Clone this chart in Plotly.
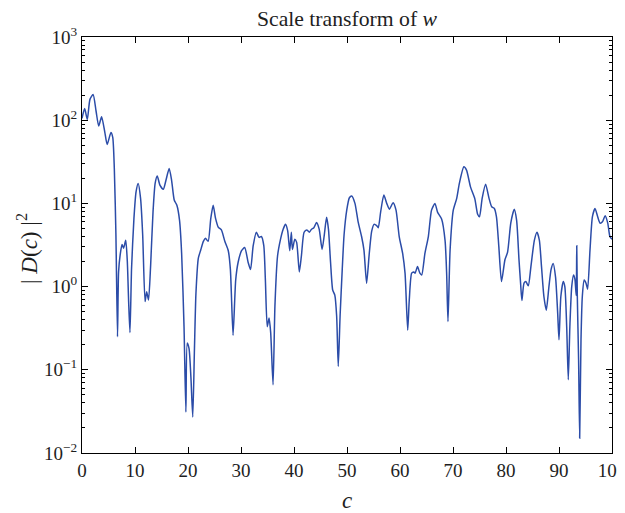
import plotly.graph_objects as go

# scale variable c
c_vals = [
    0.0, 0.5, 1.0, 1.5, 2.1, 2.65, 3.15, 3.7, 4.3, 4.75, 5.45, 5.8, 6.1, 6.4, 6.7,
    6.9, 7.2, 7.55, 7.85, 8.25, 8.55, 8.8, 9.05, 9.35, 9.8, 10.2, 10.6, 11.05, 11.45,
    11.9, 12.2, 12.55, 12.95, 13.4, 13.8, 14.2, 14.7, 15.35, 15.85, 16.45, 16.9, 17.4,
    17.9, 18.4, 18.8, 19.25, 19.6, 19.85, 20.2, 20.55, 20.9, 21.2, 21.5, 21.95, 22.4,
    22.9, 23.3, 23.8, 24.3, 24.75, 25.2, 25.7, 26.3, 26.95, 27.6, 28.0, 28.5, 29.0,
    29.45, 30.1, 30.7, 31.35, 31.8, 32.3, 32.9, 33.4, 33.85, 34.3, 34.6, 34.95, 35.3,
    35.6, 36.05, 36.4, 36.9, 37.45, 37.95, 38.4, 38.8, 39.2, 39.5, 39.7, 40.15, 40.5,
    41.0, 41.4, 41.9, 42.4, 42.9, 43.3, 43.75, 44.25, 44.75, 45.3, 45.7, 46.15, 46.5,
    46.9, 47.3, 47.7, 48.05, 48.35, 48.7, 49.1, 49.45, 49.95, 50.45, 50.9, 51.5, 52.1,
    52.75, 53.2, 53.7, 54.2, 54.65, 55.1, 55.6, 55.9, 56.35, 56.95, 57.5, 58.0, 58.7,
    59.25, 59.85, 60.5, 60.95, 61.45, 61.75, 62.2, 62.6, 62.85, 63.3, 63.75, 64.1,
    64.7, 65.35, 65.95, 66.6, 67.1, 67.85, 68.5, 68.8, 69.05, 69.45, 70.05, 70.7,
    71.2, 72.05, 72.55, 73.3, 74.1, 74.65, 75.0, 75.5, 76.15, 76.8, 77.3, 77.8, 78.2,
    78.65, 79.15, 79.8, 80.3, 80.9, 81.55, 82.0, 82.45, 82.75, 83.0, 83.4, 83.75,
    84.2, 84.7, 85.35, 85.85, 86.3, 86.7, 87.15, 87.6, 88.1, 88.5, 88.9, 89.35,
    89.75, 90.0, 90.35, 90.8, 91.1, 91.45, 91.75, 92.05, 92.4, 92.75, 93.0, 93.25,
    93.35, 93.45, 93.7, 93.9, 94.15, 94.4, 94.75, 95.1, 95.4, 95.85, 96.3, 96.8,
    97.3, 97.75, 98.2, 98.7, 99.2, 99.6, 100.0,
]

# |D(c)|^2
d_vals = [
    105, 138, 102, 178, 204, 129, 85, 110, 72, 51, 71, 62, 26, 4.2, 0.25,
    1.5, 2.4, 3.2, 2.9, 3.6, 2.0, 0.66, 0.28, 1.66, 6.6, 13.8, 17.4, 11.5, 4.2,
    0.66, 0.87, 0.69, 1.8, 7.9, 17.4, 21.4, 16.6, 14.8, 19.1, 26.3, 19.1, 11.0,
    9.5, 6.3, 2.5, 0.33, 0.031, 0.21, 0.18, 0.081, 0.027, 0.16, 0.83, 2.2, 2.75,
    3.5, 3.8, 3.5, 6.6, 9.5, 6.6, 5.2, 4.8, 3.5, 2.7, 1.6, 0.26, 1.2,
    1.95, 2.7, 2.95, 1.95, 1.6, 3.1, 4.5, 3.9, 4.0, 3.1, 1.2, 0.33, 0.42,
    0.28, 0.066, 0.58, 2.35, 3.7, 4.9, 5.6, 4.7, 2.7, 4.5, 2.8, 3.7, 3.4,
    1.5, 2.35, 4.5, 4.8, 4.5, 4.9, 5.1, 5.9, 4.9, 2.8, 4.1, 6.8, 4.9,
    1.95, 0.91, 0.79, 0.44, 0.11, 0.45, 1.6, 4.2, 8.3, 11.7, 12.3, 10.0, 6.0,
    4.0, 2.75, 1.1, 2.5, 4.6, 5.6, 5.4, 5.1, 7.9, 12.6, 10.0, 8.5, 10.2,
    8.3, 4.0, 2.5, 1.45, 0.30, 0.69, 1.45, 1.5, 1.45, 1.74, 1.45, 1.38,
    2.5, 4.0, 8.3, 10.0, 7.8, 6.5, 3.6, 1.45, 0.38, 2.75, 8.3, 11.5,
    17.4, 27.5, 25.1, 15.8, 11.5, 7.4, 6.9, 11.5, 17.0, 11.5, 9.1, 8.7, 6.9,
    3.0, 1.15, 2.1, 2.6, 5.8, 8.5, 6.3, 2.1, 1.1, 0.68, 1.1, 1.15,
    1.02, 1.74, 3.6, 4.5, 3.6, 1.74, 0.76, 0.52, 1.0, 1.6, 1.9, 1.3,
    0.48, 0.23, 0.76, 1.15, 1.0, 0.33, 0.076, 0.33, 1.0, 1.38, 1.23, 0.78,
    3.1, 0.79, 0.13, 0.015, 0.23, 0.76, 1.2, 1.1, 0.93, 2.75, 6.9, 8.7,
    6.9, 5.8, 6.0, 7.1, 5.8, 4.0, 3.7,
]

y_tickvals = [1e-2, 1e-1, 1e0, 1e1, 1e2, 1e3]
y_ticktext = ["10<sup>\u22122</sup>", "10<sup>\u22121</sup>", "10<sup>0</sup>",
              "10<sup>1</sup>", "10<sup>2</sup>", "10<sup>3</sup>"]
y_minor_vals = [k * d for d in [1e-2, 1e-1, 1e0, 1e1, 1e2] for k in range(2, 10)]
x_tickvals = [0, 10, 20, 30, 40, 50, 60, 70, 80, 90, 100]

title_text = "Scale transform of <i>w</i>"
x_title = "<i>c</i>"
y_title = "| <i>D</i>(<i>c</i>) |<sup>2</sup>"

FONT = "Liberation Serif"
TXT = "#1e1e1e"

# the page body adds an 8px offset; figure sized so that it fills the window
W, H = 617, 505
L, R, T, B = 74, 13, 29, 60
PW, PH = W - L - R, H - T - B

fig = go.Figure()
fig.add_trace(go.Scatter(
    x=c_vals, y=d_vals, mode="lines",
    line=dict(color="#2b4ca8", width=1.5, shape="spline", smoothing=0.6),
    showlegend=False,
))

fig.update_layout(
    width=W, height=H,
    margin=dict(l=L, r=R, t=T, b=B, autoexpand=False),
    paper_bgcolor="white", plot_bgcolor="white",
    font=dict(family=FONT, size=19, color=TXT),
    title=dict(text=title_text, x=0.5, xref="paper", xanchor="center",
               y=1 - 10 / H, yref="container", yanchor="middle",
               font=dict(family=FONT, size=21.7, color=TXT)),
)

fig.add_annotation(text=y_title, textangle=-90, xref="paper", yref="paper",
                   x=-(L - 19) / PW, y=0.5 - 4 / PH, xanchor="center", yanchor="middle",
                   showarrow=False, font=dict(family=FONT, size=23, color=TXT))
fig.add_annotation(text=x_title, xref="paper", yref="paper",
                   x=0.5, y=-(492 - (H - B)) / PH, xanchor="center", yanchor="middle",
                   showarrow=False, font=dict(family=FONT, size=23, color=TXT))

fig.update_xaxes(
    range=[0, 100], tickvals=x_tickvals, automargin=False,
    ticklabeloverflow="allow",
    showline=True, linecolor="black", linewidth=1.3, mirror="ticks",
    ticks="inside", ticklen=6, tickwidth=1.1, tickcolor="black",
    showgrid=False, zeroline=False,
    tickfont=dict(family=FONT, size=19, color=TXT),
)

fig.update_yaxes(
    type="log", range=[-2, 3], tickvals=y_tickvals, ticktext=y_ticktext,
    automargin=False, ticklabeloverflow="allow",
    showline=True, linecolor="black", linewidth=1.3, mirror="ticks",
    ticks="inside", ticklen=6, tickwidth=1.1, tickcolor="black",
    minor=dict(tickmode="array", tickvals=y_minor_vals, ticks="inside",
               ticklen=3, tickwidth=1, tickcolor="black", showgrid=False),
    showgrid=False, zeroline=False,
    tickfont=dict(family=FONT, size=19, color=TXT),
)

fig.write_html("out.html")
